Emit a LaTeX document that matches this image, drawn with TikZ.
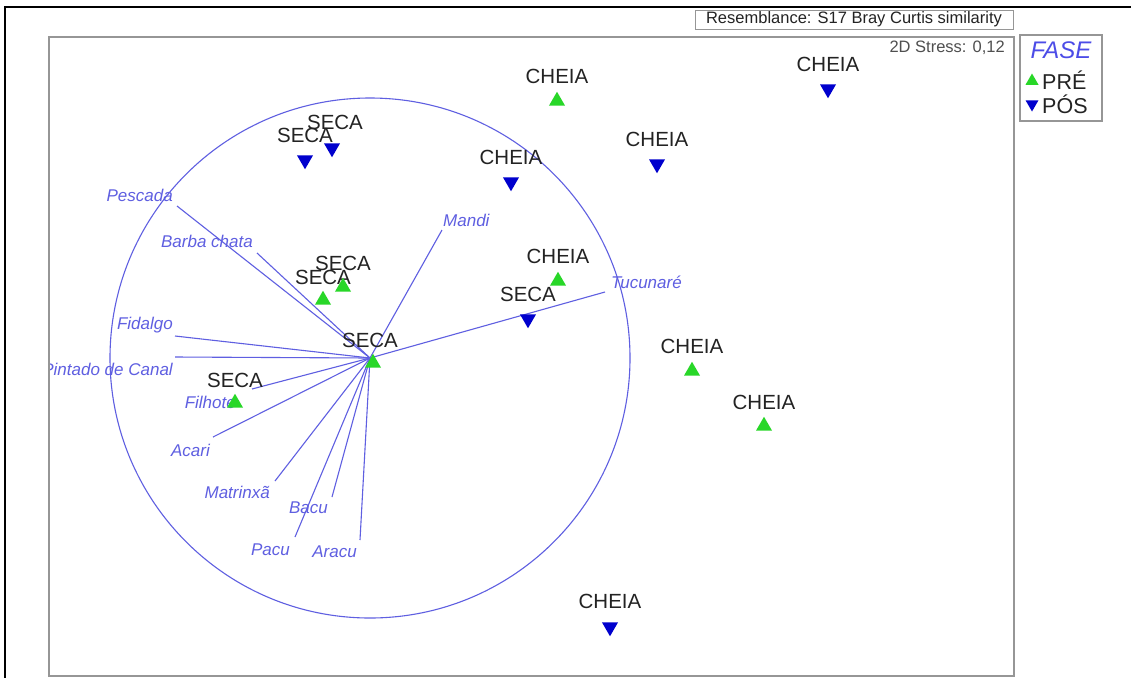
\documentclass[tikz,border=0pt]{standalone}
\usepackage{fontspec}
\setmainfont{Liberation Sans}
\usepackage{tikz}
\usetikzlibrary{positioning, shapes.geometric}
\definecolor{vecblue}{RGB}{95, 95, 225}
\definecolor{ptblue}{RGB}{0, 0, 205}
\definecolor{ptgreen}{RGB}{40, 215, 40}
\definecolor{framegray}{RGB}{150, 150, 150}
\definecolor{txtgray}{RGB}{35, 35, 35}

\begin{document}
\begin{tikzpicture}[x=1pt, y=-1pt,
    premark/.style={regular polygon, regular polygon sides=3, fill=ptgreen, inner sep=0pt, minimum size=18.5pt},
    posmark/.style={premark, fill=ptblue, shape border rotate=180},
    lbl/.style={font=\fontsize{20.5}{22}\selectfont, text=txtgray, inner sep=0pt, on grid},
    sp/.style={font=\fontsize{17}{19}\selectfont\itshape, text=vecblue, inner sep=0pt},
    vec/.style={vecblue, line width=1.1pt}]
    \useasboundingbox (0,0) rectangle (1131,678);
    \fill[white] (0,0) rectangle (1131,678);
    \draw[black, line width=2pt] (1131,7) -- (5,7) -- (5,678);

    \coordinate (O) at (370,358);
    \coordinate (tPes) at (177,206);
    \coordinate (tBar) at (257,253);
    \coordinate (tFid) at (175,336);
    \coordinate (tPin) at (175,357);
    \coordinate (tFil) at (252,389);
    \coordinate (tAca) at (213,437);
    \coordinate (tMat) at (275,481);
    \coordinate (tBac) at (332,497);
    \coordinate (tPac) at (295,537);
    \coordinate (tAra) at (360,540);
    \coordinate (tMan) at (442,230);
    \coordinate (tTuc) at (605,292);

    \draw[vec] (O) circle[radius=260pt];
    \draw[vec] (O) -- (tPes);
    \draw[vec] (O) -- (tBar);
    \draw[vec] (O) -- (tFid);
    \draw[vec] (O) -- (tPin);
    \draw[vec] (O) -- (tFil);
    \draw[vec] (O) -- (tAca);
    \draw[vec] (O) -- (tMat);
    \draw[vec] (O) -- (tBac);
    \draw[vec] (O) -- (tPac);
    \draw[vec] (O) -- (tAra);
    \draw[vec] (O) -- (tMan);
    \draw[vec] (O) -- (tTuc);

    \begin{scope}
        \clip (49,37) rectangle (1014,676);
        \node[sp, anchor=east] (nPes) at (173,195) {Pescada};
        \node[sp, anchor=east] (nBar) at (253,241) {Barba chata};
        \node[sp, anchor=east] (nFid) at (173,325) {Fidalgo};
        \node[sp, anchor=east] (nPin) at (173,369) {Pintado de Canal};
        \node[sp, anchor=east] (nFil) at (236,402) {Filhote};
        \node[sp, anchor=east] (nAca) at (210,450) {Acari};
        \node[sp, anchor=east] (nMat) at (270,492) {Matrinxã};
        \node[sp, anchor=east] (nBac) at (328,508) {Bacu};
        \node[sp, anchor=east] (nPac) at (290,550) {Pacu};
        \node[sp, anchor=east] (nAra) at (357,552) {Aracu};
        \node[sp, anchor=west] (nMan) at (443,220) {Mandi};
        \node[sp, anchor=west] (nTuc) at (611,282) {Tucunaré};
    \end{scope}

    \node[premark] (c1) at (557,101) {};
    \node[lbl, above=25pt of c1] (lc1) {CHEIA};
    \node[posmark] (c2) at (828,89) {};
    \node[lbl, above=25pt of c2] (lc2) {CHEIA};
    \node[posmark] (s1) at (305,160) {};
    \node[lbl, above=25pt of s1] (ls1) {SECA};
    \node[posmark] (s2) at (332,148) {};
    \node[lbl, above=26pt of s2, xshift=3pt] (ls2) {SECA};
    \node[posmark] (c3) at (511,182) {};
    \node[lbl, above=25pt of c3] (lc3) {CHEIA};
    \node[posmark] (c4) at (657,164) {};
    \node[lbl, above=25pt of c4] (lc4) {CHEIA};
    \node[premark] (s3) at (323,300) {};
    \node[lbl, above=23pt of s3] (ls3) {SECA};
    \node[premark] (s4) at (343,287) {};
    \node[lbl, above=24pt of s4] (ls4) {SECA};
    \node[premark] (c6) at (558,281) {};
    \node[lbl, above=25pt of c6] (lc6) {CHEIA};
    \node[posmark] (s5) at (528,319) {};
    \node[lbl, above=25pt of s5] (ls5) {SECA};
    \node[premark] (s6) at (373,363) {};
    \node[lbl, above=23pt of s6, xshift=-3pt] (ls6) {SECA};
    \node[premark] (c7) at (692,371) {};
    \node[lbl, above=25pt of c7] (lc7) {CHEIA};
    \node[premark] (c8) at (764,426) {};
    \node[lbl, above=24pt of c8] (lc8) {CHEIA};
    \node[premark] (s7) at (235,403) {};
    \node[lbl, above=23pt of s7] (ls7) {SECA};
    \node[posmark] (c9) at (610,627) {};
    \node[lbl, above=26pt of c9] (lc9) {CHEIA};

    \draw[framegray, line width=1.3pt] (49,37) rectangle (1014,676);
    \node[draw=framegray, line width=1pt, font=\fontsize{16.5}{18}\selectfont, text=txtgray,
        inner sep=0pt, minimum width=318pt, minimum height=19pt] (res) at (854,19.5)
        {Resemblance: S17 Bray Curtis similarity};
    \node[anchor=east, font=\fontsize{16.5}{18}\selectfont, text=txtgray!80, inner sep=0pt]
        (stress) at (1005,48) {2D Stress: 0,12};

    \draw[framegray, line width=1.3pt] (1020,35) rectangle (1102,121);
    \node[font=\fontsize{24}{26}\selectfont\itshape, text=vecblue!80!blue, inner sep=0pt]
        (fase) at (1061,50) {FASE};
    \node[premark, minimum size=15pt] (kpre) at (1032,81) {};
    \node[lbl, font=\fontsize{21.5}{23}\selectfont, anchor=west] (tpre) at (1042,80) {PRÉ};
    \node[posmark, minimum size=15pt] (kpos) at (1032,104) {};
    \node[lbl, font=\fontsize{21.5}{23}\selectfont, anchor=west] (tpos) at (1042,104) {PÓS};
\end{tikzpicture}
\end{document}
